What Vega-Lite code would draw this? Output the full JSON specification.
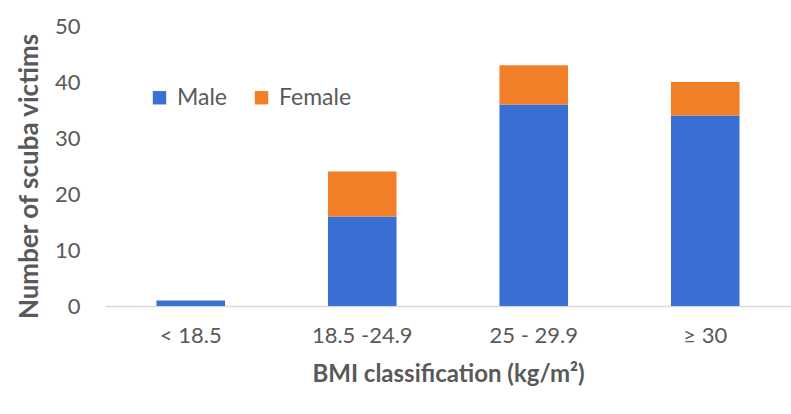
{
  "$schema": "https://vega.github.io/schema/vega-lite/v6.json",
  "width": 686,
  "height": 280,
  "autosize": {"type": "none"},
  "padding": {"left": 105, "top": 26, "right": 0, "bottom": 108},
  "background": "white",
  "config": {
    "view": {"stroke": null},
    "font": "Lato",
    "axis": {"labelFont": "Lato", "titleFont": "Lato", "labelColor": "#595959", "titleColor": "#595959"}
  },
  "data": {
    "values": [
      {"bmi": "< 18.5", "sex": "Male", "count": 1, "order": 1},
      {"bmi": "< 18.5", "sex": "Female", "count": 0, "order": 2},
      {"bmi": "18.5 -24.9", "sex": "Male", "count": 16, "order": 1},
      {"bmi": "18.5 -24.9", "sex": "Female", "count": 8, "order": 2},
      {"bmi": "25 - 29.9", "sex": "Male", "count": 36, "order": 1},
      {"bmi": "25 - 29.9", "sex": "Female", "count": 7, "order": 2},
      {"bmi": "≥ 30", "sex": "Male", "count": 34, "order": 1},
      {"bmi": "≥ 30", "sex": "Female", "count": 6, "order": 2}
    ]
  },
  "mark": {"type": "bar"},
  "encoding": {
    "x": {
      "field": "bmi", "type": "nominal",
      "sort": ["< 18.5", "18.5 -24.9", "25 - 29.9", "≥ 30"],
      "scale": {"paddingInner": 0.6, "paddingOuter": 0.3},
      "axis": {
        "title": "BMI classification (kg/m²)",
        "titleFontSize": 24, "titleFontWeight": "bold", "titlePadding": 16,
        "labelAngle": 0, "labelFontSize": 22, "labelPadding": 19,
        "ticks": false, "domainColor": "#D9D9D9", "domainWidth": 1.3
      }
    },
    "y": {
      "field": "count", "type": "quantitative", "stack": "zero",
      "scale": {"domain": [0, 50]},
      "axis": {
        "title": "Number of scuba victims",
        "titleFontSize": 26, "titleFontWeight": "bold", "titlePadding": 12, "titleY": 150,
        "values": [0, 10, 20, 30, 40, 50],
        "labelFontSize": 22, "labelPadding": 25,
        "ticks": false, "domain": false, "grid": false
      }
    },
    "color": {
      "field": "sex", "type": "nominal",
      "scale": {"domain": ["Male", "Female"], "range": ["#3A6FD3", "#F07F27"]},
      "legend": {
        "title": null, "orient": "none", "legendX": 43, "legendY": 60,
        "direction": "horizontal", "symbolType": "square", "symbolSize": 180,
        "symbolStrokeWidth": 0, "labelFontSize": 23, "labelColor": "#595959",
        "labelFont": "Lato", "columnPadding": 22, "labelOffset": 6
      }
    },
    "order": {"field": "order", "type": "quantitative"}
  }
}
